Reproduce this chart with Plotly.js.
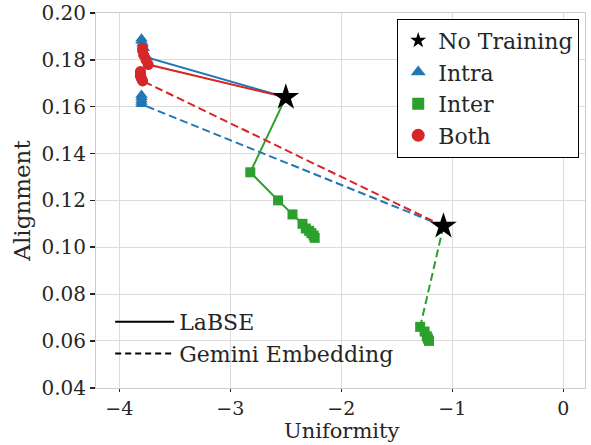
<!DOCTYPE html>
<html><head><meta charset="utf-8">
<script src="https://cdn.plot.ly/plotly-3.0.1.min.js"></script>
<style>html,body{margin:0;padding:0;background:#fff}#chart{width:591px;height:445px}</style>
</head><body><div id="chart"></div>
<script>
// No training points
const noTrainLabse = {x: -2.50, y: 0.164};
const noTrainGemini = {x: -1.08, y: 0.109};

// LaBSE (solid)
const labseIntraX = [-2.50, -3.75, -3.78, -3.79, -3.80, -3.80];
const labseIntraY = [0.164, 0.181, 0.185, 0.187, 0.188, 0.189];
const labseInterX = [-2.50, -2.82, -2.57, -2.44, -2.35, -2.32, -2.29, -2.27, -2.25, -2.24];
const labseInterY = [0.164, 0.132, 0.120, 0.114, 0.110, 0.108, 0.107, 0.106, 0.105, 0.104];
const labseBothX = [-2.50, -3.74, -3.76, -3.78, -3.79, -3.79];
const labseBothY = [0.164, 0.178, 0.180, 0.182, 0.184, 0.185];

// Gemini Embedding (dashed)
const gemIntraX = [-1.08, -3.80, -3.80, -3.80, -3.80, -3.80];
const gemIntraY = [0.109, 0.161, 0.162, 0.163, 0.164, 0.165];
const gemInterX = [-1.08, -1.29, -1.25, -1.23, -1.22, -1.21];
const gemInterY = [0.109, 0.066, 0.064, 0.062, 0.061, 0.060];
const gemBothX = [-1.08, -3.79, -3.80, -3.81, -3.81, -3.81];
const gemBothY = [0.109, 0.171, 0.172, 0.173, 0.174, 0.175];

const legendNames = ["No Training", "Intra", "Inter", "Both"];
const modelNames = ["LaBSE", "Gemini Embedding"];
const xTitle = "Uniformity";
const yTitle = "Alignment";

const BLUE = "#1f77b4", GREEN = "#2ca02c", RED = "#d62728";
const DASH = "8px,4px";

function series(x, y, color, symbol, size) {
  return {x: x.slice(1), y: y.slice(1), type: "scatter", mode: "markers",
    marker: {color: color, symbol: symbol, size: size, line: {width: 0}},
    showlegend: false, hoverinfo: "skip"};
}
function line(x, y, color, dash) {
  return {x: x, y: y, type: "scatter", mode: "lines",
    line: {color: color, width: 2, dash: dash}, showlegend: false, hoverinfo: "skip"};
}

const traces = [
  line(gemInterX, gemInterY, GREEN, DASH), series(gemInterX, gemInterY, GREEN, "square", 10),
  line(labseInterX, labseInterY, GREEN, "solid"), series(labseInterX, labseInterY, GREEN, "square", 10),
  line(gemIntraX, gemIntraY, BLUE, DASH), series(gemIntraX, gemIntraY, BLUE, "triangle-up", 11),
  line(labseIntraX, labseIntraY, BLUE, "solid"), series(labseIntraX, labseIntraY, BLUE, "triangle-up", 11),
  line(gemBothX, gemBothY, RED, DASH), series(gemBothX, gemBothY, RED, "circle", 11),
  line(labseBothX, labseBothY, RED, "solid"), series(labseBothX, labseBothY, RED, "circle", 11),
  {x: [noTrainLabse.x, noTrainGemini.x], y: [noTrainLabse.y, noTrainGemini.y], type: "scatter", mode: "markers",
   marker: {color: "black", symbol: "star", size: 20}, showlegend: false, hoverinfo: "skip"},
  // legend 1 entries
  {x: [null], y: [null], type: "scatter", mode: "markers", name: legendNames[0], legend: "legend",
   marker: {color: "black", symbol: "star", size: 12}},
  {x: [null], y: [null], type: "scatter", mode: "markers", name: legendNames[1], legend: "legend",
   marker: {color: BLUE, symbol: "triangle-up", size: 13}},
  {x: [null], y: [null], type: "scatter", mode: "markers", name: legendNames[2], legend: "legend",
   marker: {color: GREEN, symbol: "square", size: 12}},
  {x: [null], y: [null], type: "scatter", mode: "markers", name: legendNames[3], legend: "legend",
   marker: {color: RED, symbol: "circle", size: 13}},
  // legend 2 entries
  {x: [null], y: [null], type: "scatter", mode: "lines", name: modelNames[0], legend: "legend2",
   line: {color: "black", width: 2, dash: "solid"}},
  {x: [null], y: [null], type: "scatter", mode: "lines", name: modelNames[1], legend: "legend2",
   line: {color: "black", width: 2, dash: "6px,4px"}}
];

const FONT = "'DejaVu Serif', 'Liberation Serif', serif";
const layout = {
  width: 591, height: 445,
  margin: {l: 96, r: 6, t: 13, b: 57},
  paper_bgcolor: "#fff", plot_bgcolor: "#fff",
  font: {family: FONT, size: 20, color: "#262626"},
  xaxis: {range: [-4.21, 0.195], tickvals: [-4, -3, -2, -1, 0], ticktext: ["\u22124", "\u22123", "\u22122", "\u22121", "0"],
    showgrid: true, gridcolor: "#dcdcdc", gridwidth: 1, zeroline: false,
    showline: true, linecolor: "#cccccc", linewidth: 1, mirror: true,
    ticks: "outside", ticklen: 3, tickwidth: 1.5, tickcolor: "#262626",
    tickfont: {family: FONT, size: 19, color: "#262626"}},
  yaxis: {range: [0.0399, 0.2], tickvals: [0.04, 0.06, 0.08, 0.10, 0.12, 0.14, 0.16, 0.18, 0.20],
    ticktext: ["0.04", "0.06", "0.08", "0.10", "0.12", "0.14", "0.16", "0.18", "0.20"],
    showgrid: true, gridcolor: "#dcdcdc", gridwidth: 1, zeroline: false,
    showline: true, linecolor: "#cccccc", linewidth: 1, mirror: true,
    ticks: "outside", ticklen: 5, tickwidth: 1.5, tickcolor: "#262626",
    tickfont: {family: FONT, size: 20, color: "#262626"},
    title: {text: yTitle, font: {family: FONT, size: 23, color: "#262626"}, standoff: 4}},
  annotations: [{text: xTitle, xref: "x", yref: "paper", x: -2.0, y: -0.1493, xanchor: "center", yanchor: "bottom",
    showarrow: false, font: {family: FONT, size: 21, color: "#262626"}, borderpad: 0}],
  legend: {x: 0.616, y: 0.985, xanchor: "left", yanchor: "top", bgcolor: "#fff",
    bordercolor: "#000", borderwidth: 1, font: {family: FONT, size: 22, color: "#262626"},
    itemwidth: 30, tracegroupgap: 0},
  legend2: {x: 0.029, y: 0.232, xanchor: "left", yanchor: "top", bgcolor: "rgba(255,255,255,0)",
    borderwidth: 0, font: {family: FONT, size: 22, color: "#262626"}, itemwidth: 59}
};

Plotly.newPlot("chart", traces, layout, {displayModeBar: false, staticPlot: true});
</script></body></html>
